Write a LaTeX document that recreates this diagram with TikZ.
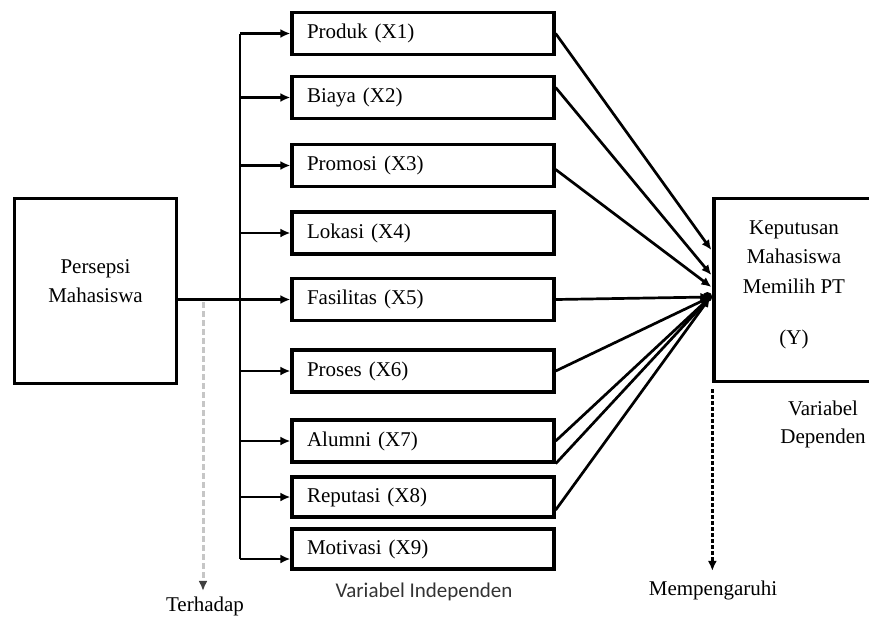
\documentclass[tikz,border=0pt]{standalone}
\usepackage{fontspec}
\setmainfont{Liberation Serif}
\newfontfamily\labelsans{Carlito}
\usetikzlibrary{arrows.meta,calc}

\tikzset{
  varbox/.style={draw,line width=3.3pt,minimum width=262pt,minimum height=42pt,
    text width=232pt,align=left,inner xsep=15pt,
    font=\fontsize{21}{25}\selectfont},
  bigbox/.style={draw,line width=3.3pt,align=center,
    font=\fontsize{21}{29.5}\selectfont},
  link/.style={line width=2.7pt},
  arr/.style={link,-{Latex[length=10pt,width=9pt]}},
  caption/.style={font=\fontsize{21}{28}\selectfont,align=center},
}

\begin{document}
\begin{tikzpicture}[x=1pt,y=-1pt]
  \useasboundingbox (0,0) rectangle (869,619);
  \clip (0,0) rectangle (869,619);

  % persepsi and keputusan
  \node[bigbox,minimum width=162pt,minimum height=185pt,text depth=20pt]
    (persepsi) at (95.5,291) {Persepsi\\Mahasiswa};
  \node[bigbox,minimum width=160pt,minimum height=183pt,text depth=15pt]
    (keputusan) at (794,290) {Keputusan\\Mahasiswa\\Memilih PT\\[22pt](Y)};

  % independent variables
  \node[varbox] (x1) at (423,33.5) {Produk (X1)};
  \node[varbox] (x2) at (423,97.5) {Biaya (X2)};
  \node[varbox] (x3) at (423,165.5) {Promosi (X3)};
  \node[varbox] (x4) at (423,233) {Lokasi (X4)};
  \node[varbox] (x5) at (423,299.5) {Fasilitas (X5)};
  \node[varbox] (x6) at (423,371) {Proses (X6)};
  \node[varbox] (x7) at (423,441) {Alumni (X7)};
  \node[varbox,minimum height=40pt] (x8) at (423,497) {Reputasi (X8)};
  \node[varbox,minimum height=40pt] (x9) at (423,549) {Motivasi (X9)};

  % captions
  \node[caption] (terhadap) at (205,606) {Terhadap};
  \node[caption,font=\labelsans\fontsize{21}{25}\selectfont,text=black!80]
    (independen) at (424,592) {Variabel Independen};
  \node[caption] (mempengaruhi) at (713,590) {Mempengaruhi};
  \node[caption] (dependen) at (823,424) {Variabel\\Dependen};

  % trunk to the boxes
  \coordinate (trunk) at (240,0);
  \coordinate (x9low) at ([yshift=-10pt]x9.west);
  \draw[link] (trunk |- x1.west) -- (trunk |- x9low);
  \draw[link] (persepsi.east |- x5.west) -- (trunk |- x5.west);
  \foreach \n in {x1,x2,x3,x4,x5,x6,x7,x8}
    \draw[arr] (trunk |- \n.west) -- (\n.west);
  \draw[arr] (trunk |- x9low) -- (x9low);

  % into keputusan
  \coordinate (hub) at ($(keputusan.west)+(-2,7)$);
  \coordinate (hubA) at ($(keputusan.west)+(-1,-40)$);
  \coordinate (hubB) at ($(keputusan.west)+(-1,-15)$);
  \coordinate (hubC) at ($(keputusan.west)+(-1,-3)$);
  \coordinate (x2out) at ([yshift=10pt]x2.east);
  \coordinate (x3out) at ([yshift=-4pt]x3.east);
  \coordinate (x8out) at ([yshift=-13pt]x8.east);
  \draw[arr] (x1.east) -- (hubA);
  \draw[arr] (x2out) -- (hubB);
  \draw[arr] (x3out) -- (hubC);
  \foreach \s in {x5.east,x6.east,x7.east,x7.south east,x8out}
    \draw[arr] (\s) -- (hub);
  \fill ([xshift=-3pt]hub) circle (5pt);

  % dashed pointers
  \coordinate (tstart) at (203,302);
  \draw[gray!45,line width=3pt,dash pattern=on 6pt off 3pt,
    -{Latex[length=10pt,width=9pt,color=black!75]}]
    (tstart) -- ([yshift=2pt]tstart |- terhadap.north);
  \draw[line width=2.5pt,dash pattern=on 3.5pt off 2.5pt,
    -{Latex[length=10pt,width=9pt]}]
    ([yshift=-6pt]keputusan.south west) -- ([yshift=6pt]keputusan.south west |- mempengaruhi.north);
\end{tikzpicture}
\end{document}
